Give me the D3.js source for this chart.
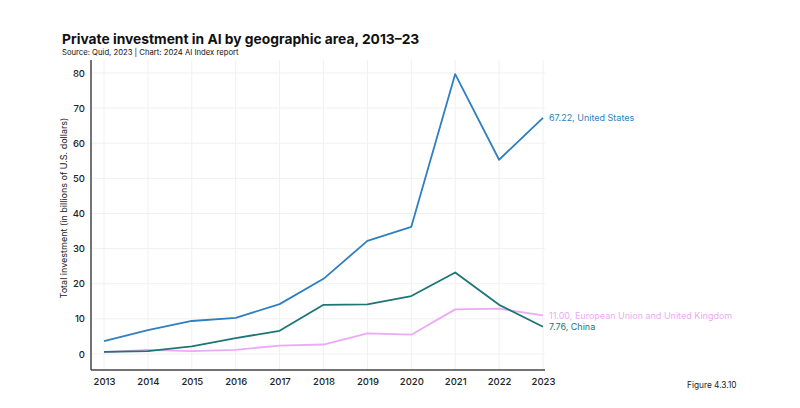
<!DOCTYPE html>
<html><head><meta charset="utf-8">
<script src="https://cdn.jsdelivr.net/npm/d3@7"></script>
<style>
body{margin:0;background:#fff;}
text{font-family:Inter,"Noto Sans",sans-serif;}
</style></head>
<body><svg id="c" width="800" height="408"></svg>
<script>
const years = [2013,2014,2015,2016,2017,2018,2019,2020,2021,2022,2023];
const usValues = [3.7,6.8,9.4,10.3,14.2,21.4,32.2,36.2,79.7,55.3,67.22];
const chinaValues = [0.6,0.8,2.2,4.5,6.6,14.0,14.1,16.5,23.2,14.0,7.76];
const euValues = [0.5,1.2,0.8,1.2,2.4,2.7,5.9,5.5,12.7,12.9,11.00];
const seriesNames = ["United States","European Union and United Kingdom","China"];
const yTicks = [0,10,20,30,40,50,60,70,80];

const colors = {"United States":"#2f7fc1","European Union and United Kingdom":"#ecaaf6","China":"#1e7577"};
const series = [
  {name:"United States", values:usValues},
  {name:"European Union and United Kingdom", values:euValues},
  {name:"China", values:chinaValues}
];
const svg = d3.select("#c");
const x = d3.scaleLinear().domain([2013,2023]).range([104,543]);
const y = d3.scaleLinear().domain([-4.555,83.7]).range([370,60]);

// grid
svg.append("g").selectAll("line").data(years).join("line")
  .attr("x1",d=>x(d)).attr("x2",d=>x(d)).attr("y1",60).attr("y2",370)
  .attr("stroke","#f0f0f0").attr("stroke-width",1);
svg.append("g").selectAll("line").data(yTicks).join("line")
  .attr("x1",91).attr("x2",545).attr("y1",d=>y(d)).attr("y2",d=>y(d))
  .attr("stroke","#f0f0f0").attr("stroke-width",1);

// axes
const xAxis = d3.axisBottom(x).tickValues(years).tickFormat(d3.format("d")).tickSize(0).tickPadding(8);
const gx = svg.append("g").attr("transform","translate(0,370)").call(xAxis);
gx.select(".domain").remove();
gx.selectAll("text").attr("font-size",9.5).attr("fill","#222").attr("font-weight",500);
svg.append("line").attr("x1",91).attr("x2",545).attr("y1",370).attr("y2",370).attr("stroke","#444").attr("stroke-width",1.5);

const yAxis = d3.axisLeft(y).tickValues(yTicks).tickSize(0).tickPadding(6);
const gy = svg.append("g").attr("transform","translate(91,0)").call(yAxis);
gy.select(".domain").remove();
gy.selectAll("text").attr("font-size",9.5).attr("fill","#222").attr("font-weight",500);
svg.append("line").attr("x1",91).attr("x2",91).attr("y1",60).attr("y2",370).attr("stroke","#444").attr("stroke-width",1.5);

// lines
const line = d3.line().x((d,i)=>x(years[i])).y(d=>y(d));
svg.append("g").selectAll("path").data(series).join("path")
  .attr("d",d=>line(d.values)).attr("fill","none")
  .attr("stroke",d=>colors[d.name]).attr("stroke-width",1.8).attr("stroke-linejoin","round");

// end labels
svg.append("g").selectAll("text").data(series).join("text")
  .attr("x",x(2023)+6).attr("y",d=>y(d.values[d.values.length-1]))
  .attr("dy","0.35em").attr("font-size",9).attr("fill",d=>colors[d.name])
  .text(d=>d3.format(".2f")(d.values[d.values.length-1])+", "+d.name);

// titles
svg.append("text").attr("x",62).attr("y",44).attr("font-size",13.8).attr("font-weight",700).attr("fill","#111")
  .text("Private investment in AI by geographic area, 2013–23");
svg.append("text").attr("x",62).attr("y",55).attr("font-size",7.7).attr("fill","#111")
  .text("Source: Quid, 2023 | Chart: 2024 AI Index report");
svg.append("text").attr("transform","translate(67,208) rotate(-90)").attr("text-anchor","middle")
  .attr("font-size",9).attr("fill","#222").text("Total investment (in billions of U.S. dollars)");
svg.append("text").attr("x",687).attr("y",388).attr("font-size",8.3).attr("fill","#222").text("Figure 4.3.10");
</script></body></html>
